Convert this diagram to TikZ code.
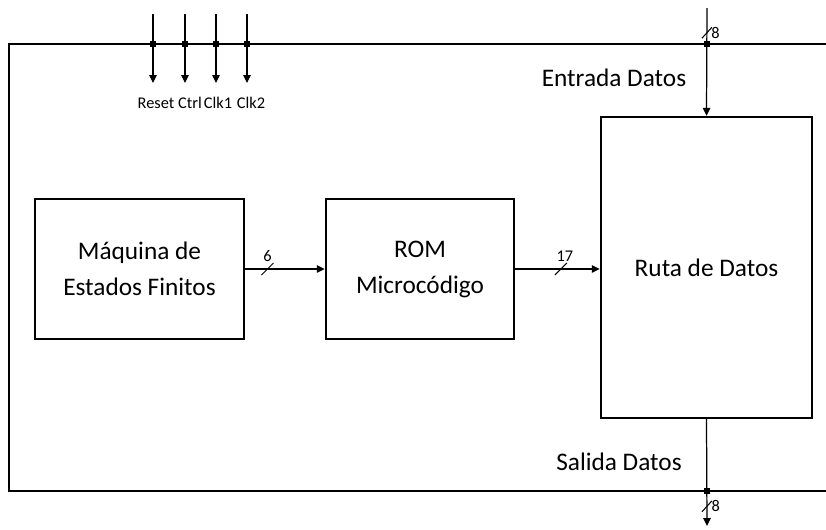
\documentclass[tikz,border=0pt]{standalone}
\usepackage{fontspec}
\setmainfont{Carlito}
\usetikzlibrary{arrows.meta, positioning}

\begin{document}
\begin{tikzpicture}[
    x=0.02cm, y=-0.02cm,
    >={Triangle[length=1.6mm, width=1.5mm]},
    block/.style={rectangle, draw=black, line width=1.4pt, align=center, font=\fontsize{14.4}{20.5}\selectfont},
    bus/.style={->, line width=0.7pt},
    slash/.style={line width=0.6pt},
    tap/.style={rectangle, fill=black, inner sep=0pt, minimum size=0.13cm},
    small/.style={font=\fontsize{9.3}{11}\selectfont, inner sep=1pt},
    sig/.style={font=\fontsize{14.4}{17}\selectfont}
]

\useasboundingbox (0,0) rectangle (826,529);

% chip boundary
\draw[line width=1.4pt] (826,44) -| (9,491) -- (826,491);

% blocks
\node[block, minimum width=4.18cm, minimum height=2.8cm] (fsm) at (139.5,269) {Máquina de\\Estados Finitos};
\node[block, minimum width=3.76cm, minimum height=2.8cm] (rom) at (420,269) {ROM\\Microcódigo};
\node[block, minimum width=4.22cm, minimum height=6.02cm] (ruta) at (706.5,267.5) {Ruta de Datos};

% control inputs
\foreach \x/\lx/\name in {153/156/Reset, 185/190/Ctrl, 216/218/Clk1, 247/251/Clk2} {
    \coordinate (in\name) at (\x,14);
    \coordinate (end\name) at (\x,83);
    \draw[bus] (in\name) -- (end\name);
    \node[tap] (tap\name) at (\x,44) {};
    \node[small] (lbl\name) at (\lx,103) {\name};
}

% buses between blocks
\draw[bus] (fsm.east) -- (rom.west) coordinate[pos=0.28] (s6);
\draw[slash] ([xshift=-0.12cm, yshift=-0.12cm]s6) -- ([xshift=0.12cm, yshift=0.12cm]s6);
\node[small, above=0.1cm of s6] {6};

\draw[bus] (rom.east) -- (rom.east -| ruta.west) coordinate[pos=0.54] (s17);
\draw[slash] ([xshift=-0.12cm, yshift=-0.12cm]s17) -- ([xshift=0.12cm, yshift=0.12cm]s17);
\node[small, above=0.1cm of s17, xshift=0.08cm] {17};

% data in
\coordinate (din) at (707,8);
\draw[bus] (din) -- (ruta.north) coordinate[pos=0.23] (sin);
\node[tap] (tapin) at (707,44) {};
\draw[slash] ([xshift=-0.1cm, yshift=-0.11cm]sin) -- ([xshift=0.1cm, yshift=0.11cm]sin);
\node[small, right=0.05cm of sin] {8};
\node[sig] (lblin) at (614,78) {Entrada Datos};

% data out
\coordinate (dout) at (707,526);
\draw[bus] (ruta.south) -- (dout) coordinate[pos=0.816] (sout);
\node[tap] (tapout) at (707,491) {};
\draw[slash] ([xshift=-0.1cm, yshift=-0.11cm]sout) -- ([xshift=0.1cm, yshift=0.11cm]sout);
\node[small, right=0.05cm of sout] {8};
\node[sig] (lblout) at (619,462) {Salida Datos};

\end{tikzpicture}
\end{document}
